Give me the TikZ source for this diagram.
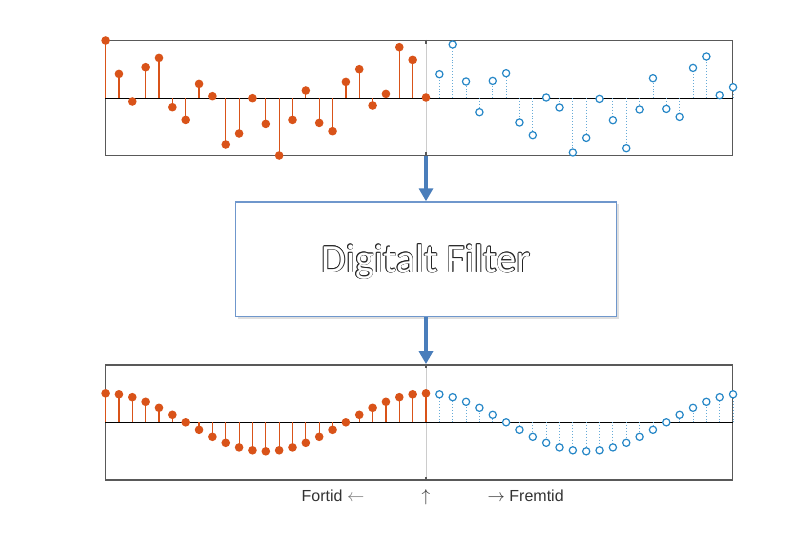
\documentclass[tikz,border=0pt]{standalone}
\usepackage{fontspec}
\setmainfont{Liberation Sans}
\newfontfamily\filterfont{Carlito}
\usetikzlibrary{arrows.meta,positioning,shadows}
\definecolor{pastred}{HTML}{D95319}
\definecolor{futureblue}{HTML}{0072BD}
\definecolor{boxblue}{HTML}{6F97CC}
\definecolor{flowblue}{HTML}{4A7EBB}
\definecolor{framegray}{HTML}{595959}

\tikzset{
	panel/.style={draw=framegray, line width=1.4pt, minimum width=627pt, minimum height=115pt, inner sep=0pt},
	axisline/.style={black, line width=0.8pt},
	nowline/.style={black!20, line width=0.8pt},
	nowtick/.style={framegray, line width=1.2pt},
	paststem/.style={pastred, line width=1.2pt},
	pastdot/.style={fill=pastred},
	futurestem/.style={futureblue!60, line width=0.9pt, dotted},
	futuredot/.style={draw=futureblue!85, line width=1.2pt, fill=white},
	flow/.style={flowblue, line width=4pt, -{Triangle[length=13pt,width=14pt]}},
	filterbox/.style={draw=boxblue, line width=1.3pt, fill=white, minimum width=381pt, minimum height=114.7pt, drop shadow={opacity=0.25, shadow xshift=2pt, shadow yshift=-2.5pt}},
	filtertext/.style={font=\filterfont\fontsize{40}{48}\selectfont, text height=26pt, text depth=0pt, inner sep=0pt},
	timelabel/.style={font=\fontsize{16}{19}\selectfont, text=black!80, inner sep=0pt}
}

\begin{document}
\begin{tikzpicture}[x=1pt, y=-1pt]
	\useasboundingbox[fill=white] (0,0) rectangle (810,540);

	\node[panel] (inpanel) at (419.2,98.2) {};
	\node[panel] (outpanel) at (419.2,422.3) {};
	\node[filterbox] (filter) at (426,259.3) {};

	\foreach \p in {inpanel, outpanel} {
		\draw[nowline] (filter.north |- \p.north) -- (filter.north |- \p.south);
		\draw[nowtick] (filter.north |- \p.north) -- ++(0,4);
		\draw[nowtick] (filter.north |- \p.south) -- ++(0,-4);
		\draw[axisline] (\p.west) -- (\p.east);
	}

	\foreach \n/\v in {-24/57.7, -23/24.3, -22/-3.3, -21/31, -20/40.3, -19/-9, -18/-21.7, -17/14.3,
		-16/2, -15/-46.3, -14/-35.3, -13/0, -12/-25.7, -11/-57.3, -10/-21.7, -9/7.7, -8/-24.7,
		-7/-33, -6/16.3, -5/29, -4/-7.3, -3/4.3, -2/51, -1/38.3, 0/0.7} {
		\draw[paststem] ({426+13.35*\n},98.2) -- ({426+13.35*\n},{98.2-\v});
		\fill[pastdot] ({426+13.35*\n},{98.2-\v}) circle[radius=4.3pt];
	}
	\foreach \n/\v in {1/24, 2/53.7, 3/16.7, 4/-14, 5/17.3, 6/25, 7/-24.3, 8/-37, 9/0.7, 10/-9.3,
		11/-54.3, 12/-39.7, 13/-0.7, 14/-22, 15/-50, 16/-11.3, 17/20, 18/-10.7, 19/-18.7,
		20/30.3, 21/41.7, 22/3, 23/11} {
		\draw[futurestem] ({426+13.35*\n},98.2) -- ({426+13.35*\n},{98.2-\v});
		\draw[futuredot] ({426+13.35*\n},{98.2-\v}) circle[radius=3.6pt];
	}

	\foreach \n in {-24,...,0} {
		\draw[paststem] ({426+13.35*\n},422.3) -- ({426+13.35*\n},{422.3-29*cos(15*\n)});
		\fill[pastdot] ({426+13.35*\n},{422.3-29*cos(15*\n)}) circle[radius=4.3pt];
	}
	\foreach \n in {1,...,23} {
		\draw[futurestem] ({426+13.35*\n},422.3) -- ({426+13.35*\n},{422.3-29*cos(15*\n)});
		\draw[futuredot] ({426+13.35*\n},{422.3-29*cos(15*\n)}) circle[radius=3.6pt];
	}

	\draw[flow] (filter.north |- inpanel.south) -- (filter.north);
	\draw[flow] (filter.south) -- (filter.south |- outpanel.north);

	\foreach \dx/\dy [count=\k] in {0.6/0, -0.6/0, 0/0.6, 0/-0.6, 0.45/0.45, -0.45/0.45, 0.45/-0.45, -0.45/-0.45}
		\node[filtertext, text=black!85, xshift=\dx pt, yshift=\dy pt] (rim\k) at (filter.center) {Digitalt Filter};
	\node[filtertext, text=white] (filtername) at (filter.center) {Digitalt Filter};

	\node[timelabel, anchor=base] (now) at (426,501) {$\uparrow$};
	\node[timelabel, base left=57pt of now] (past) {Fortid \textcolor{black!55}{$\leftarrow$}};
	\node[timelabel, base right=57pt of now] (future) {$\rightarrow$ Fremtid};
\end{tikzpicture}
\end{document}
